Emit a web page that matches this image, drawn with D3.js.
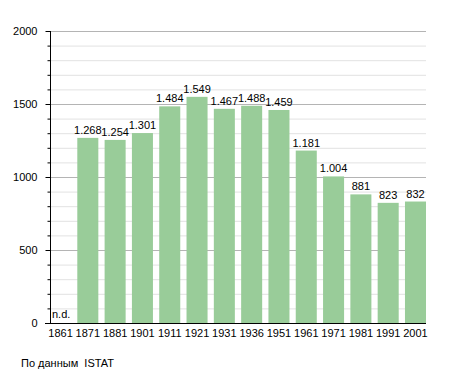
<!DOCTYPE html>
<html><head><meta charset="utf-8">
<script src="https://cdn.jsdelivr.net/npm/d3@7"></script>
<style>body{margin:0;background:#fff}svg{display:block;font-family:"Liberation Sans",Arial,sans-serif}</style>
</head><body>
<script>
const years = ["1861","1871","1881","1901","1911","1921","1931","1936","1951","1961","1971","1981","1991","2001"];
const population = [null,1268,1254,1301,1484,1549,1467,1488,1459,1181,1004,881,823,832];
const majorTicks = [0,500,1000,1500,2000];
const minorTicks = d3.range(0,2001,100);
const noDataLabel = "n.d.";
const sourceText = "По данным  ISTAT";

const W=455,H=373;
const svg=d3.select("body").append("svg").attr("width",W).attr("height",H);
const x=d3.scaleBand().domain(years).range([50,426]).paddingInner(0.23).paddingOuter(0).align(0);
const y=d3.scaleLinear().domain([0,2000]).range([323,31]);
const fmt=d3.formatLocale({decimal:",",thousands:".",grouping:[3],currency:["","€"]}).format(",d");

// minor gridlines
svg.append("g").selectAll("line").data(minorTicks.filter(d=>d%500!==0)).join("line")
 .attr("x1",50).attr("x2",426).attr("y1",d=>y(d)+0.5).attr("y2",d=>y(d)+0.5)
 .attr("stroke","#e2e2e2").attr("stroke-width",1);
svg.append("g").selectAll("line").data(majorTicks.filter(d=>d>0)).join("line")
 .attr("x1",50).attr("x2",426).attr("y1",d=>y(d)+0.5).attr("y2",d=>y(d)+0.5)
 .attr("stroke","#b4b4b4").attr("stroke-width",1);

// bars
const data=years.map((k,i)=>({k,v:population[i]}));
svg.append("g").selectAll("rect").data(data.filter(d=>d.v!=null)).join("rect")
 .attr("x",d=>x(d.k)).attr("width",x.bandwidth())
 .attr("y",d=>y(d.v)).attr("height",d=>y(0)-y(d.v))
 .attr("fill","#99cc99");

// value labels
svg.append("g").selectAll("text").data(data.filter(d=>d.v!=null)).join("text")
 .attr("x",d=>x(d.k)+x.bandwidth()/2).attr("y",d=>y(d.v)-4)
 .attr("text-anchor","middle").attr("font-size",11).attr("fill","#000")
 .text(d=>fmt(d.v));
svg.append("text").attr("x",x("1861")+2).attr("y",318).attr("font-size",11).text(noDataLabel);

// y axis
const ya=d3.axisLeft(y).tickValues(majorTicks).tickFormat(d3.format("d")).tickSize(5).tickPadding(8);
const gy=svg.append("g").attr("transform","translate(50.5,0)").call(ya);
gy.select(".domain").remove();
gy.selectAll("text").attr("font-size",11).attr("font-family","Liberation Sans, Arial, sans-serif").attr("fill","#000");
gy.selectAll("line").attr("stroke","#000");
svg.append("g").selectAll("line").data(minorTicks.filter(d=>d%500!==0)).join("line")
 .attr("x1",47.5).attr("x2",50.5).attr("y1",d=>y(d)+0.5).attr("y2",d=>y(d)+0.5).attr("stroke","#000");
svg.append("line").attr("x1",50.5).attr("x2",50.5).attr("y1",31).attr("y2",323).attr("stroke","#000");

// x axis
const xa=d3.axisBottom(x).tickSize(0).tickPadding(6);
const gx=svg.append("g").attr("transform","translate(0,323)").call(xa);
gx.select(".domain").remove();
gx.selectAll("text").attr("font-size",11).attr("font-family","Liberation Sans, Arial, sans-serif").attr("fill","#000");
svg.append("line").attr("x1",45).attr("x2",426).attr("y1",323.5).attr("y2",323.5).attr("stroke","#000");

svg.append("text").attr("x",21).attr("y",367).attr("font-size",11).style("white-space","pre").text(sourceText);
</script>
</body></html>
